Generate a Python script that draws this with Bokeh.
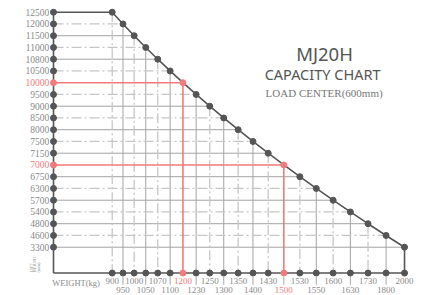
import math
from bokeh.plotting import figure
from bokeh.models import Range1d, ColumnDataSource
from bokeh.core.properties import value
from bokeh.embed import file_html
from bokeh.resources import INLINE

# ---------------- data ----------------
weights = [900, 950, 1000, 1050, 1070, 1100, 1200, 1230, 1250, 1300, 1350,
           1400, 1430, 1500, 1530, 1550, 1600, 1630, 1730, 1800, 2000]
heights = [12500, 12000, 11500, 11000, 10800, 10500, 10000, 9500, 9000, 8500, 8000,
           7500, 7150, 7000, 6750, 6300, 5700, 5400, 4800, 4600, 3300]
# capacity curve: pairs (rated load, lift height)
curve_weights = weights
curve_heights = heights
highlight_weights = [1200, 1500]
highlight_heights = [10000, 7000]
title = "MJ20H"
subtitle = "CAPACITY CHART"
note = "LOAD  CENTER(600mm)"
x_title = "WEIGHT(kg)"
y_title = ["LIFT", "HEIGHT", "(mm)"]

# ---------------- styling / layout ----------------
DARK = "#555555"
GRID_SOLID = "#a3a3a3"
GRID_DASH = "#c6c6c6"
RED = "#f27a7a"
LABEL = "#8a8a8a"
SERIF = value("Liberation Serif")
SANS = value("Noto Sans")

# non-uniform category spacing along the weight axis (gaps widen to the right)
growth = 0.0375
xpos = {}
acc = 0.0
for i, w in enumerate(weights):
    xpos[w] = acc
    acc += 1 + growth * i
ypos = {h: r for r, h in enumerate(heights)}

Y_AXIS_X = -5.447      # position of the lift-height axis (x units)
X_AXIS_ROW = 22.20     # position of the weight axis (row units)

W, H = 421, 295
p = figure(width=W, height=H, output_backend="svg", toolbar_location=None,
           x_axis_location=None, y_axis_location=None, min_border=0,
           x_range=Range1d(-10.366, 28.70), y_range=Range1d(24.11, -0.996))
p.xgrid.visible = False
p.ygrid.visible = False
p.outline_line_color = None
p.background_fill_color = "white"

cx = [xpos[w] for w in curve_weights]
cy = [ypos[h] for h in curve_heights]
hl_idx = [i for i, (w, h) in enumerate(zip(curve_weights, curve_heights))
          if w in highlight_weights and h in highlight_heights]

# ---- grid (only under the curve) ----
def seg_src(items):
    return ColumnDataSource(dict(x0=[a[0] for a in items], y0=[a[1] for a in items],
                                 x1=[a[2] for a in items], y1=[a[3] for a in items]))

h_solid, h_dash, v_solid, v_dash, red_segs = [], [], [], [], []
n = len(cx)
for i in range(n):
    hs = (Y_AXIS_X, cy[i], cx[i], cy[i])
    vs = (cx[i], cy[i], cx[i], X_AXIS_ROW)
    if i in hl_idx:
        red_segs += [hs, vs]
        continue
    if i > 0:
        (h_dash if i % 2 == 1 else h_solid).append(hs)
    if i < n - 1:
        (v_dash if i % 2 == 0 else v_solid).append(vs)

p.segment("x0", "y0", "x1", "y1", source=seg_src(h_solid), line_color=GRID_SOLID, line_width=1)
p.segment("x0", "y0", "x1", "y1", source=seg_src(v_solid), line_color=GRID_SOLID, line_width=1)
p.segment("x0", "y0", "x1", "y1", source=seg_src(h_dash), line_color=GRID_DASH,
          line_width=1.3, line_dash="10 3 2 3")
p.segment("x0", "y0", "x1", "y1", source=seg_src(v_dash), line_color=GRID_DASH,
          line_width=1.3, line_dash="10 3 2 3")
p.segment("x0", "y0", "x1", "y1", source=seg_src(red_segs), line_color=RED, line_width=1.6)

# ---- axes lines ----
p.line([Y_AXIS_X, Y_AXIS_X], [cy[0], X_AXIS_ROW], line_color=DARK, line_width=1.6)
p.line([Y_AXIS_X, cx[-1]], [X_AXIS_ROW, X_AXIS_ROW], line_color=DARK, line_width=1.6)

# ---- capacity curve ----
p.line([Y_AXIS_X] + cx + [cx[-1]], [cy[0]] + cy + [X_AXIS_ROW],
       line_color=DARK, line_width=1.6)

# ---- markers ----
row_vals = [ypos[h] for h in heights]
col_vals = [xpos[w] for w in weights]
row_cols = [RED if h in highlight_heights else DARK for h in heights]
col_cols = [RED if w in highlight_weights else DARK for w in weights]
curve_cols = [RED if i in hl_idx else DARK for i in range(n)]
p.scatter([Y_AXIS_X] * len(row_vals), row_vals, size=6, color=row_cols)
p.scatter(col_vals, [X_AXIS_ROW] * len(col_vals), size=6, color=col_cols)
p.scatter(cx, cy, size=6, color=curve_cols)

# ---- tick labels ----
p.text(x=[Y_AXIS_X - 0.40] * len(heights), y=row_vals, text=[str(h) for h in heights],
       text_align="right", text_baseline="middle", text_font=SERIF,
       text_font_size="9.5px", text_color=[RED if h in highlight_heights else LABEL for h in heights])

top_i = [i for i in range(len(weights)) if i % 2 == 0]
bot_i = [i for i in range(len(weights)) if i % 2 == 1]
p.text(x=[col_vals[i] for i in top_i], y=[X_AXIS_ROW + 0.66] * len(top_i),
       text=[str(weights[i]) for i in top_i], text_align="center", text_baseline="middle",
       text_font=SERIF, text_font_size="9px",
       text_color=[RED if weights[i] in highlight_weights else LABEL for i in top_i])
p.text(x=[col_vals[i] for i in bot_i], y=[X_AXIS_ROW + 1.43] * len(bot_i),
       text=[str(weights[i]) for i in bot_i], text_align="center", text_baseline="middle",
       text_font=SERIF, text_font_size="9px",
       text_color=[RED if weights[i] in highlight_weights else LABEL for i in bot_i])
# separators for lower-row labels
p.segment(x0=[col_vals[i] for i in bot_i], y0=[X_AXIS_ROW + 0.33] * len(bot_i),
          x1=[col_vals[i] for i in bot_i], y1=[X_AXIS_ROW + 1.0] * len(bot_i),
          line_color="#a8a8a8", line_width=1)

# ---- axis titles ----
p.text(x=[Y_AXIS_X - 0.12], y=[X_AXIS_ROW + 0.88], text=[x_title], text_align="left",
       text_baseline="middle", text_font=SERIF, text_font_size="8.5px", text_color=LABEL)
p.text(x=[-7.49, -7.18, -6.81], y=[X_AXIS_ROW - 0.05] * 3, text=y_title, angle=math.pi / 2,
       text_align="left", text_baseline="middle", text_font=SERIF,
       text_font_size="4.5px", text_color="#9a9a9a")

# ---- titles ----
p.text(x=[19.70], y=[3.51], text=[title], text_align="center", text_baseline="middle",
       text_font=SANS, text_font_size="18.5px", text_color=DARK)
p.text(x=[19.52], y=[5.30], text=[subtitle], text_align="center", text_baseline="middle",
       text_font=SANS, text_font_size="14.5px", text_color=DARK)
p.text(x=[19.79], y=[6.88], text=[note], text_align="center", text_baseline="middle",
       text_font=SERIF, text_font_size="11px", text_color="#777777")

open("out.html", "w").write(file_html(p, INLINE))
